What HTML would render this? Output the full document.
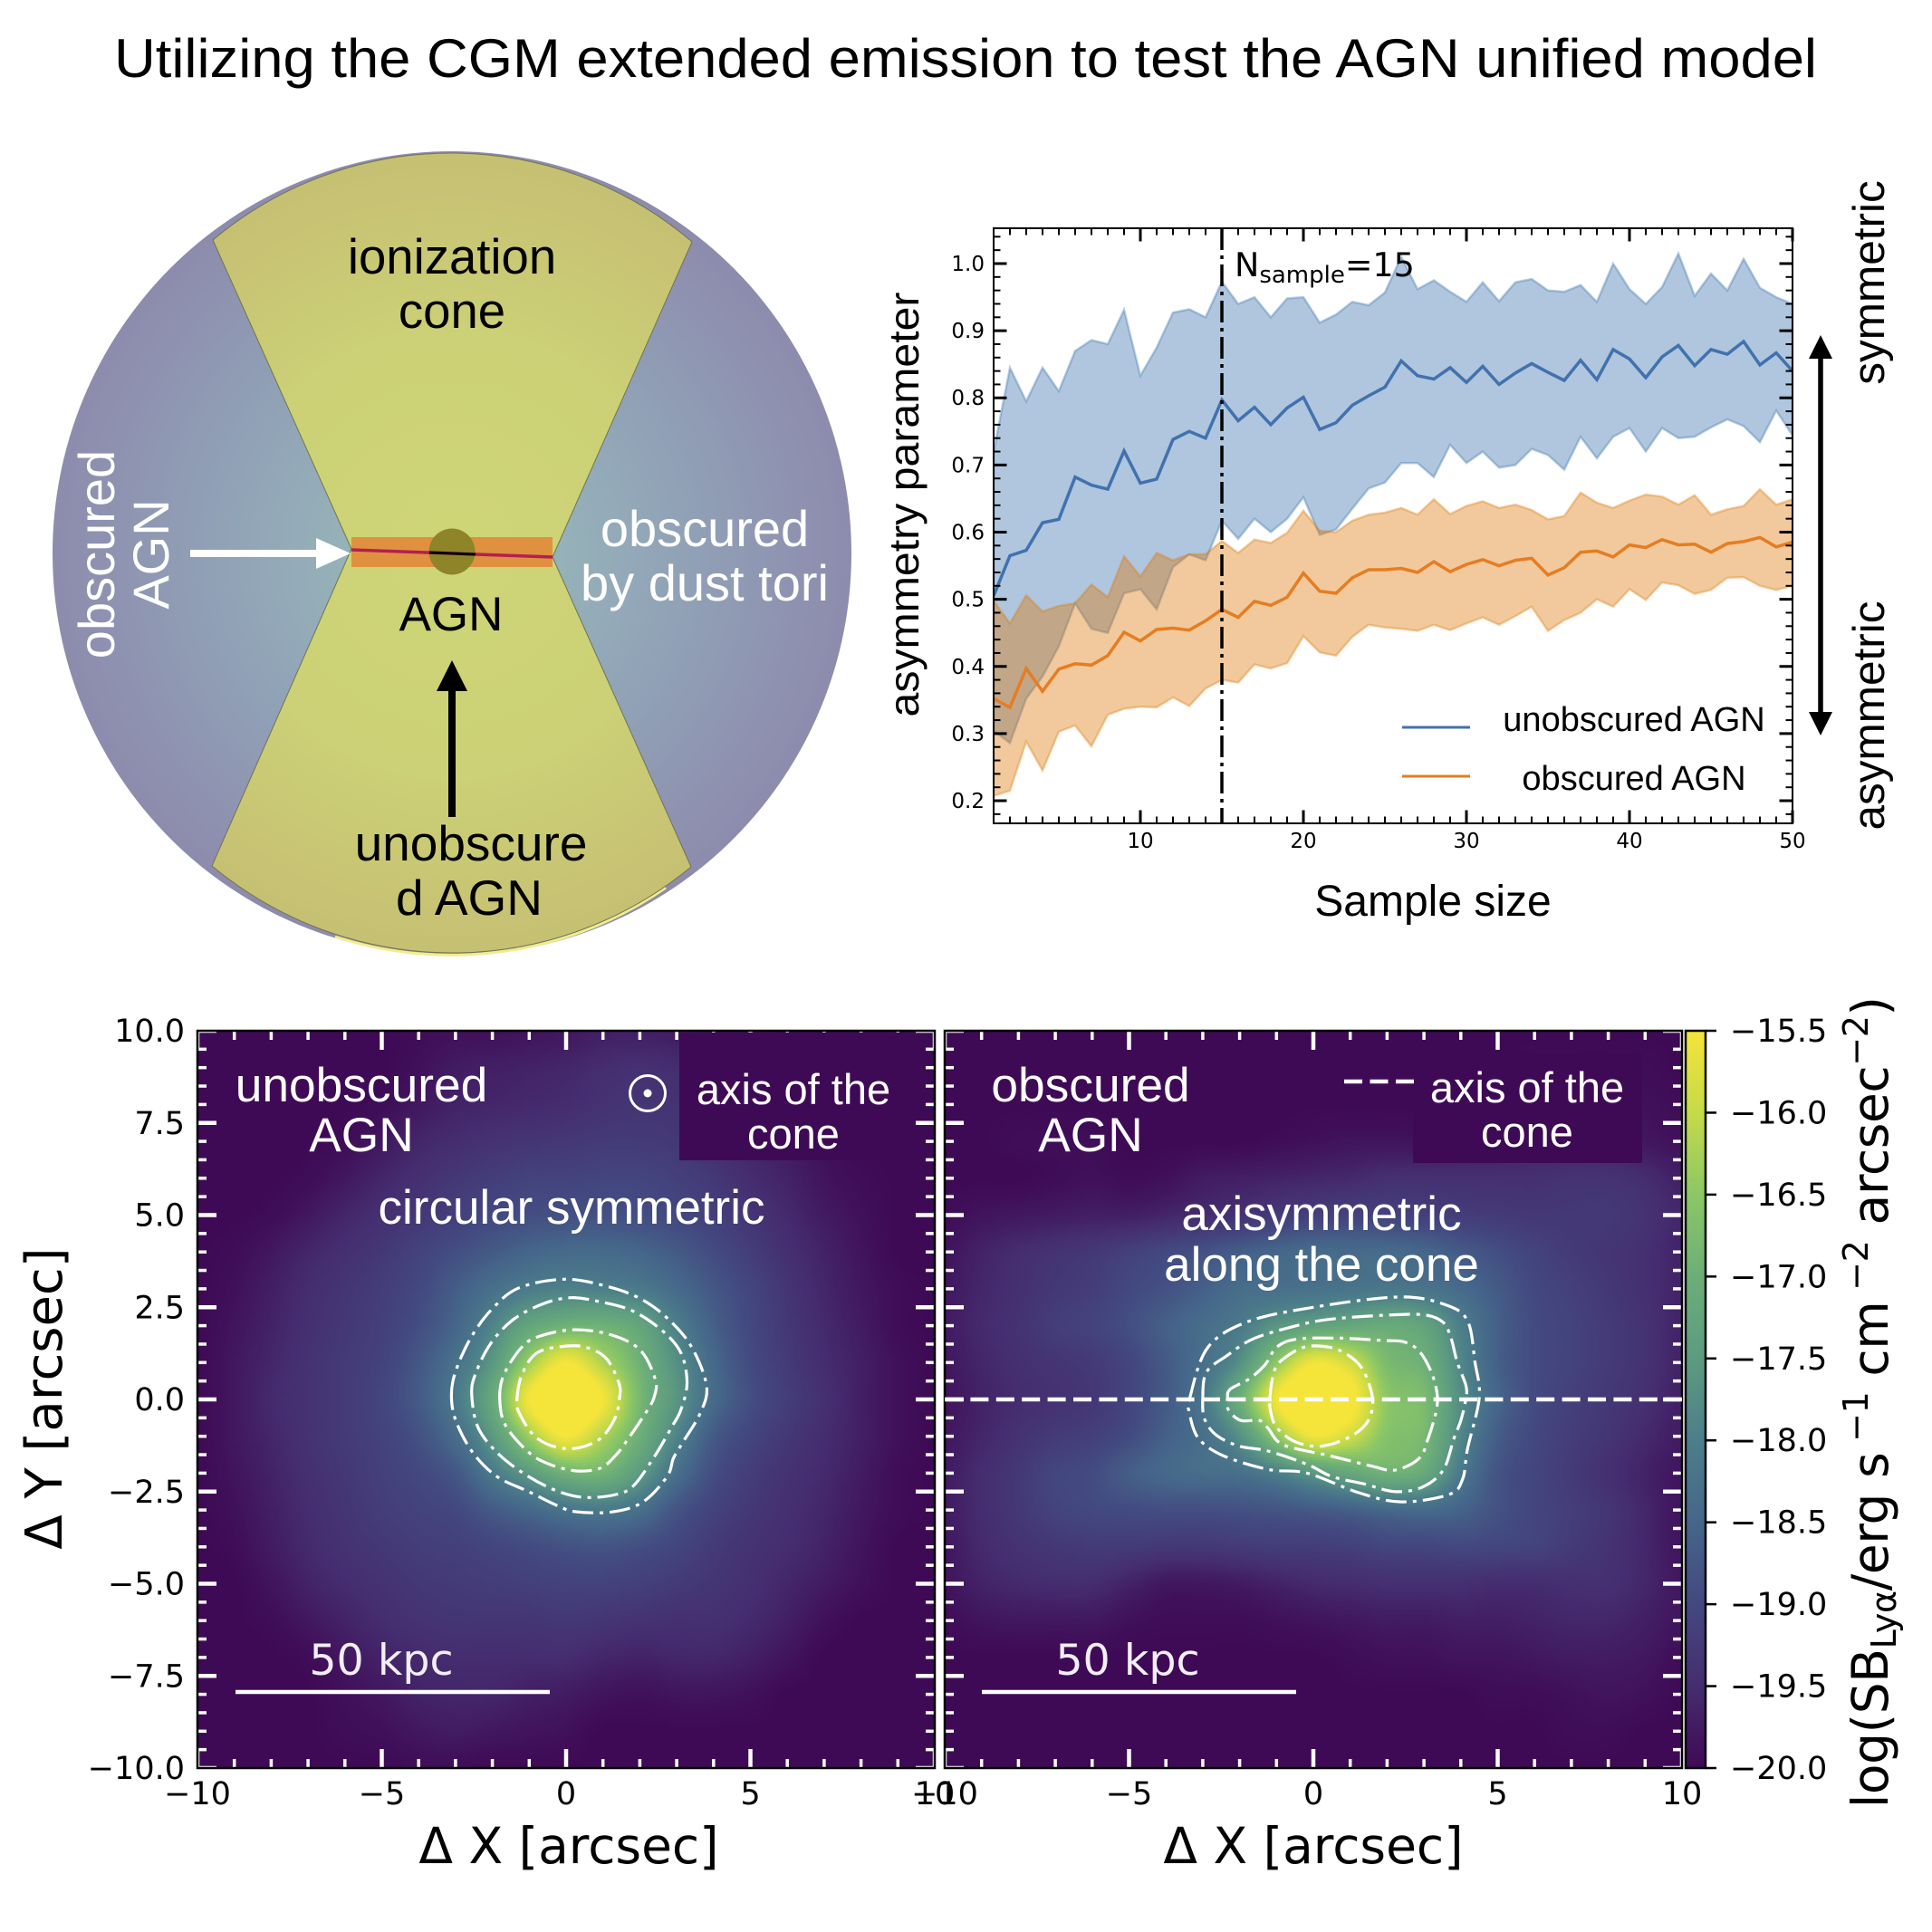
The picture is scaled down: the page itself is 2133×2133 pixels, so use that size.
<!DOCTYPE html>
<html lang="en">
<head>
<meta charset="utf-8">
<title>Utilizing the CGM extended emission to test the AGN unified model</title>
<style>
html,body{margin:0;padding:0;background:#fff;}
#stage{position:relative;width:2133px;height:2133px;overflow:hidden;background:#fff;}
canvas{position:absolute;display:block;}
svg{position:absolute;left:0;top:0;}
text{white-space:pre;}
.ls{font-family:"Liberation Sans",sans-serif;}
.dv{font-family:"DejaVu Sans",sans-serif;}
</style>
</head>
<body>
<div id="stage">
<canvas id="map1" width="814" height="814" style="left:218px;top:1138px;width:814px;height:814px"></canvas>
<canvas id="map2" width="814" height="814" style="left:1043px;top:1138px;width:814px;height:814px"></canvas>
<svg id="svg" xmlns="http://www.w3.org/2000/svg" width="2133" height="2133" viewBox="0 0 2133 2133">
<defs>
<radialGradient id="wedgeGrad" gradientUnits="userSpaceOnUse" cx="499" cy="611" r="444">
<stop offset="0.2" stop-color="#97b5b9"/><stop offset="0.55" stop-color="#91a3b7"/><stop offset="1" stop-color="#8d8bad"/>
</radialGradient>
<radialGradient id="coneGrad" gradientUnits="userSpaceOnUse" cx="499" cy="611" r="444">
<stop offset="0" stop-color="#ced677"/><stop offset="0.55" stop-color="#ccd076"/><stop offset="1" stop-color="#c6bf73"/>
</radialGradient>
<clipPath id="chartClip"><rect x="1097" y="252" width="882" height="657"/></clipPath>
<linearGradient id="cbarGrad" x1="0" y1="1" x2="0" y2="0"></linearGradient>
</defs>

<text class="ls" x="126" y="85" font-size="60" textLength="1880" lengthAdjust="spacingAndGlyphs" fill="#000">Utilizing the CGM extended emission to test the AGN unified model</text>

<g>
  <ellipse cx="499" cy="611" rx="441" ry="444" fill="url(#wedgeGrad)"/>
  <path d="M 370 1034 A 414 414 0 0 0 735 980" fill="none" stroke="#f3ec8e" stroke-width="3"/>
  <path d="M 235 265 L 388 606 L 610 615 L 764 267 A 409 409 0 0 0 235 265 Z" fill="url(#coneGrad)" stroke="#70754f" stroke-width="1"/>
  <path d="M 234 956 L 388 606 L 610 615 L 763 957 A 414 414 0 0 1 234 956 Z" fill="url(#coneGrad)" stroke="#70754f" stroke-width="1"/>
  <rect x="388" y="593" width="222" height="33" fill="#e09140"/>
  <circle cx="499" cy="609" r="25.5" fill="#8d8528"/>
  <line x1="388" y1="607" x2="610" y2="615" stroke="#b3204f" stroke-width="3.5"/>
  <line x1="474" y1="610" x2="525" y2="612" stroke="#000" stroke-width="3"/>
  <line x1="210" y1="611" x2="352" y2="611" stroke="#fff" stroke-width="8"/>
  <polygon points="349,594 387,611 349,628" fill="#fff"/>
  <line x1="499" y1="902" x2="499" y2="760" stroke="#000" stroke-width="8"/>
  <polygon points="482,763 499,729 516,763" fill="#000"/>
  <g class="ls" font-size="54.5" text-anchor="middle">
    <text x="499" y="302">ionization</text>
    <text x="499" y="362">cone</text>
    <text x="498" y="696" font-size="53">AGN</text>
    <text x="520" y="950" font-size="55">unobscure</text>
    <text x="518" y="1010" font-size="55">d AGN</text>
    <text x="778" y="603" font-size="56" fill="#fff">obscured</text>
    <text x="778" y="663" font-size="56" fill="#fff">by dust tori</text>
    <text transform="translate(126,612) rotate(-90)" font-size="56" fill="#fff">obscured</text>
    <text transform="translate(186,612) rotate(-90)" font-size="56" fill="#fff">AGN</text>
  </g>
</g>

<g id="lineChart"></g>

<g class="ls" fill="#000">
  <text transform="translate(1014,557) rotate(-90)" text-anchor="middle" font-size="46" textLength="469" lengthAdjust="spacingAndGlyphs">asymmetry parameter</text>
  <text x="1582" y="1011" text-anchor="middle" font-size="48">Sample size</text>
  <text transform="translate(2080,312) rotate(-90)" text-anchor="middle" font-size="49.5">symmetric</text>
  <text transform="translate(2080,790) rotate(-90)" text-anchor="middle" font-size="49.5">asymmetric</text>
  <line x1="2010" y1="385" x2="2010" y2="797" stroke="#000" stroke-width="5.5"/>
  <polygon points="1997,396 2010,370 2023,396" fill="#000"/>
  <polygon points="1997,786 2010,812 2023,786" fill="#000"/>
</g>

<g id="panels"></g>

<g class="ls" fill="#fff" text-anchor="middle">
  <rect x="750" y="1140" width="247" height="141" fill="#3e0a55"/>
  <rect x="1560" y="1162" width="253" height="122" fill="#3e0a55"/>
  <text x="399" y="1216" font-size="53.3">unobscured</text>
  <text x="399" y="1271" font-size="53.3">AGN</text>
  <text x="631" y="1351" font-size="53">circular symmetric</text>
  <text x="876" y="1219" font-size="47">axis of the</text>
  <text x="876" y="1268" font-size="47">cone</text>
  <circle cx="715" cy="1207" r="19.5" fill="none" stroke="#fff" stroke-width="3"/>
  <circle cx="715" cy="1207" r="4.5" fill="#fff"/>
  <text x="1204" y="1216" font-size="53.3">obscured</text>
  <text x="1204" y="1271" font-size="53.3">AGN</text>
  <text x="1459" y="1358" font-size="53">axisymmetric</text>
  <text x="1459" y="1414" font-size="53">along the cone</text>
  <text x="1686" y="1217" font-size="47">axis of the</text>
  <text x="1686" y="1266" font-size="47">cone</text>
  <line x1="1484" y1="1194" x2="1561" y2="1194" stroke="#fff" stroke-width="4.5" stroke-dasharray="20 8.5"/>
</g>

<g class="dv" fill="#f2eef5" text-anchor="middle" font-size="47.5">
  <line x1="260" y1="1868" x2="607" y2="1868" stroke="#fff" stroke-width="4.5"/>
  <text x="421" y="1849">50 kpc</text>
  <line x1="1084" y1="1868" x2="1431" y2="1868" stroke="#fff" stroke-width="4.5"/>
  <text x="1245" y="1849">50 kpc</text>
</g>

<g class="dv" fill="#000" text-anchor="middle" font-size="55">
  <text x="628" y="2057">Δ X [arcsec]</text>
  <text x="1450" y="2057">Δ X [arcsec]</text>
  <text transform="translate(68,1544) rotate(-90)" font-size="56">Δ Y [arcsec]</text>
  <text transform="translate(2084,1548) rotate(-90)" font-size="55" textLength="896">log(SB<tspan font-size="38" dy="9">Lyα</tspan><tspan dy="-9">/erg s</tspan><tspan font-size="38" dy="-22"> −1</tspan><tspan dy="22"> cm</tspan><tspan font-size="38" dy="-22"> −2</tspan><tspan dy="22"> arcsec</tspan><tspan font-size="38" dy="-22">−2</tspan><tspan dy="22">)</tspan></text>
</g>
</svg>
</div>

<script>
// ---------- line chart data ----------
const sampleSizes = [1,2,3,4,5,6,7,8,9,10,11,12,13,14,15,16,17,18,19,20,21,22,23,24,25,26,27,28,29,30,31,32,33,34,35,36,37,38,39,40,41,42,43,44,45,46,47,48,49,50];
const unobscuredMean = [0.505,0.565,0.573,0.614,0.619,0.682,0.670,0.664,0.721,0.673,0.679,0.738,0.750,0.740,0.797,0.766,0.786,0.760,0.785,0.801,0.753,0.763,0.789,0.803,0.816,0.855,0.833,0.828,0.845,0.823,0.847,0.820,0.837,0.851,0.838,0.826,0.856,0.827,0.872,0.858,0.830,0.861,0.878,0.848,0.872,0.865,0.884,0.849,0.867,0.840];
const unobscuredUpper = [0.72,0.845,0.795,0.845,0.81,0.87,0.886,0.88,0.931,0.833,0.875,0.927,0.932,0.92,0.973,0.94,0.95,0.92,0.948,0.95,0.912,0.924,0.943,0.938,0.957,1.01,0.962,0.975,0.958,0.943,0.972,0.944,0.972,0.977,0.96,0.958,0.968,0.943,1.0,0.962,0.94,0.965,1.015,0.952,0.985,0.96,1.007,0.964,0.95,0.94];
const unobscuredLower = [0.304,0.286,0.352,0.385,0.43,0.494,0.456,0.45,0.509,0.515,0.485,0.548,0.567,0.558,0.617,0.59,0.62,0.60,0.62,0.652,0.596,0.604,0.635,0.665,0.674,0.703,0.703,0.682,0.73,0.703,0.72,0.696,0.70,0.724,0.715,0.693,0.742,0.71,0.742,0.755,0.72,0.755,0.74,0.742,0.756,0.768,0.758,0.734,0.781,0.744];
const obscuredMean = [0.352,0.339,0.397,0.363,0.396,0.404,0.402,0.416,0.451,0.438,0.455,0.457,0.454,0.468,0.485,0.473,0.497,0.491,0.503,0.539,0.512,0.509,0.532,0.544,0.544,0.546,0.54,0.556,0.541,0.552,0.559,0.55,0.558,0.561,0.536,0.547,0.57,0.572,0.563,0.581,0.577,0.589,0.581,0.582,0.57,0.583,0.586,0.592,0.578,0.585];
const obscuredUpper = [0.498,0.464,0.506,0.482,0.49,0.494,0.522,0.503,0.564,0.534,0.569,0.558,0.567,0.567,0.587,0.569,0.589,0.584,0.599,0.632,0.602,0.60,0.617,0.626,0.629,0.636,0.626,0.649,0.627,0.639,0.646,0.636,0.641,0.633,0.619,0.624,0.659,0.644,0.636,0.647,0.656,0.653,0.641,0.655,0.626,0.634,0.639,0.664,0.641,0.649];
const obscuredLower = [0.207,0.215,0.288,0.245,0.303,0.312,0.281,0.328,0.337,0.34,0.339,0.354,0.341,0.367,0.38,0.376,0.403,0.397,0.405,0.445,0.421,0.416,0.444,0.462,0.458,0.456,0.453,0.462,0.454,0.464,0.473,0.462,0.475,0.489,0.453,0.469,0.48,0.5,0.489,0.515,0.499,0.525,0.521,0.508,0.514,0.532,0.533,0.52,0.514,0.52];
const chartXTicks = [10,20,30,40,50];
const chartYTicks = [0.2,0.3,0.4,0.5,0.6,0.7,0.8,0.9,1.0];
const chartYLabels = ["0.2","0.3","0.4","0.5","0.6","0.7","0.8","0.9","1.0"];
const thresholdSample = [15];

// ---------- surface brightness maps: log SB, rows y=10..-10, columns x=-10..10 ----------
const mapAxisX = [-10,-5,0,5,10];
const mapAxisXLabels = ["\u221210","\u22125","0","5","10"];
const mapAxisY = [-10,-7.5,-5,-2.5,0,2.5,5,7.5,10];
const mapAxisYLabels = ["\u221210.0","\u22127.5","\u22125.0","\u22122.5","0.0","2.5","5.0","7.5","10.0"];
const cbarTicks = [-20,-19.5,-19,-18.5,-18,-17.5,-17,-16.5,-16,-15.5];
const cbarLabels = ["\u221220.0","\u221219.5","\u221219.0","\u221218.5","\u221218.0","\u221217.5","\u221217.0","\u221216.5","\u221216.0","\u221215.5"];
const cmapLevels = [-20,-19.5,-19,-18.5,-18,-17.5,-17,-16.5,-16,-15.5];
const cmapColors = [[63,10,85],[69,45,112],[67,72,128],[69,102,138],[76,126,138],[93,155,128],[108,174,120],[140,199,102],[198,218,72],[245,228,58]];

const unobscuredGrid = [
[-20,-20,-20,-20,-20,-20,-19.95,-19.9,-19.9,-19.85,-19.8,-19.7,-19.7,-19.75,-19.85,-19.9,-20,-20,-20,-20,-20],
[-20,-20,-20,-20,-20,-20,-19.9,-19.75,-19.7,-19.65,-19.6,-19.5,-19.45,-19.5,-19.6,-19.8,-19.9,-20,-20,-20,-20],
[-20,-20,-20,-20,-20,-19.95,-19.8,-19.65,-19.6,-19.55,-19.5,-19.4,-19.35,-19.4,-19.55,-19.7,-19.85,-19.95,-20,-20,-20],
[-20,-20,-20,-20,-19.95,-19.8,-19.6,-19.5,-19.4,-19.35,-19.3,-19.25,-19.25,-19.3,-19.45,-19.6,-19.75,-19.9,-20,-20,-20],
[-20,-20,-20,-19.95,-19.8,-19.6,-19.45,-19.3,-19.2,-19.1,-19.1,-19.05,-19.05,-19.15,-19.3,-19.5,-19.65,-19.85,-19.95,-20,-20],
[-20,-20,-19.95,-19.8,-19.6,-19.45,-19.3,-19.15,-19.0,-18.9,-18.85,-18.85,-18.9,-19.0,-19.15,-19.35,-19.55,-19.75,-19.9,-20,-20],
[-20,-19.95,-19.8,-19.6,-19.45,-19.3,-19.1,-18.9,-18.7,-18.5,-18.4,-18.4,-18.5,-18.7,-18.95,-19.2,-19.45,-19.65,-19.85,-20,-20],
[-20,-19.9,-19.7,-19.5,-19.35,-19.2,-19.0,-18.65,-18.3,-18.05,-17.95,-18.0,-18.1,-18.4,-18.75,-19.05,-19.35,-19.6,-19.8,-19.95,-20],
[-20,-19.85,-19.65,-19.45,-19.3,-19.15,-18.9,-18.5,-17.9,-17.25,-16.95,-16.95,-17.25,-18.0,-18.6,-19.0,-19.3,-19.55,-19.75,-19.95,-20],
[-20,-19.8,-19.6,-19.4,-19.25,-19.1,-18.75,-18.25,-17.55,-16.35,-15.5,-16.2,-16.95,-17.7,-18.45,-18.95,-19.25,-19.5,-19.7,-19.9,-20],
[-20,-19.8,-19.55,-19.4,-19.25,-19.05,-18.7,-18.1,-17.15,-15.5,-14.8,-15.5,-16.8,-17.6,-18.4,-18.9,-19.2,-19.45,-19.7,-19.9,-20],
[-20,-19.8,-19.6,-19.4,-19.25,-19.1,-18.85,-18.35,-17.55,-16.35,-15.5,-16.2,-17.0,-17.9,-18.7,-19.05,-19.3,-19.5,-19.7,-19.9,-20],
[-20,-19.85,-19.65,-19.45,-19.3,-19.15,-19.0,-18.75,-18.1,-17.5,-16.95,-16.9,-17.5,-18.3,-18.9,-19.2,-19.4,-19.55,-19.75,-19.95,-20],
[-20,-19.9,-19.7,-19.5,-19.35,-19.2,-19.1,-19.0,-18.7,-18.45,-18.2,-18.1,-18.3,-18.8,-19.1,-19.3,-19.45,-19.6,-19.8,-19.95,-20],
[-20,-19.95,-19.75,-19.55,-19.4,-19.3,-19.2,-19.15,-19.05,-18.95,-18.85,-18.8,-18.9,-19.05,-19.25,-19.4,-19.5,-19.65,-19.85,-20,-20],
[-20,-20,-19.85,-19.65,-19.5,-19.4,-19.3,-19.25,-19.2,-19.15,-19.1,-19.1,-19.15,-19.25,-19.35,-19.45,-19.6,-19.75,-19.9,-20,-20],
[-20,-20,-19.95,-19.8,-19.65,-19.5,-19.4,-19.35,-19.35,-19.35,-19.3,-19.35,-19.4,-19.45,-19.45,-19.55,-19.7,-19.9,-20,-20,-20],
[-20,-20,-20,-19.95,-19.8,-19.65,-19.55,-19.5,-19.5,-19.5,-19.5,-19.6,-19.65,-19.6,-19.6,-19.7,-19.85,-20,-20,-20,-20],
[-20,-20,-20,-20,-19.9,-19.8,-19.65,-19.6,-19.6,-19.7,-19.75,-19.85,-19.9,-19.85,-19.85,-19.9,-20,-20,-20,-20,-20],
[-20,-20,-20,-20,-19.95,-19.9,-19.8,-19.75,-19.8,-19.85,-19.9,-20,-20,-20,-20,-20,-20,-20,-20,-20,-20],
[-20,-20,-20,-20,-20,-20,-19.95,-19.95,-20,-20,-20,-20,-20,-20,-20,-20,-20,-20,-20,-20,-20]
];
const obscuredGrid = [
[-20,-20,-20,-20,-20,-20,-20,-20,-20,-20,-20,-20,-20,-20,-20,-20,-20,-20,-20,-20,-20],
[-20,-20,-20,-20,-20,-20,-20,-20,-20,-20,-20,-20,-20,-20,-20,-20,-19.95,-19.95,-19.95,-19.95,-20],
[-20,-20,-20,-20,-20,-20,-20,-20,-20,-20,-20,-20,-20,-20,-20,-19.9,-19.85,-19.85,-19.85,-19.9,-19.95],
[-20,-20,-19.95,-19.95,-19.95,-20,-20,-20,-20,-19.95,-19.9,-19.85,-19.85,-19.85,-19.8,-19.75,-19.7,-19.7,-19.7,-19.8,-19.9],
[-20,-20,-20,-19.95,-19.9,-19.95,-19.9,-19.75,-19.7,-19.65,-19.6,-19.55,-19.45,-19.45,-19.45,-19.45,-19.45,-19.4,-19.4,-19.5,-19.7],
[-19.95,-19.85,-19.8,-19.75,-19.7,-19.7,-19.6,-19.5,-19.4,-19.25,-19.15,-19.1,-19.1,-19.15,-19.2,-19.25,-19.3,-19.3,-19.3,-19.4,-19.6],
[-19.85,-19.65,-19.5,-19.4,-19.3,-19.15,-19.0,-18.85,-18.65,-18.5,-18.4,-18.4,-18.4,-18.5,-18.7,-18.9,-19.1,-19.25,-19.35,-19.45,-19.65],
[-19.8,-19.6,-19.45,-19.3,-19.2,-19.0,-18.85,-18.6,-18.35,-18.3,-18.25,-18.2,-18.15,-18.2,-18.4,-18.7,-19.0,-19.15,-19.3,-19.45,-19.65],
[-19.75,-19.55,-19.4,-19.2,-19.1,-18.9,-18.6,-18.35,-18.1,-17.6,-17.35,-17.2,-17.1,-17.3,-18.0,-18.6,-18.95,-19.1,-19.25,-19.4,-19.65],
[-19.8,-19.6,-19.45,-19.35,-19.25,-19.05,-18.7,-18.3,-17.7,-16.5,-15.55,-15.9,-16.75,-17.0,-17.85,-18.6,-18.95,-19.1,-19.25,-19.4,-19.65],
[-19.85,-19.65,-19.5,-19.4,-19.3,-19.05,-18.7,-18.15,-17.05,-15.55,-14.8,-15.3,-16.5,-16.75,-17.75,-18.5,-18.95,-19.15,-19.3,-19.45,-19.7],
[-19.8,-19.6,-19.4,-19.25,-19.15,-18.95,-18.6,-18.3,-17.7,-16.5,-15.55,-15.9,-16.6,-16.8,-17.85,-18.65,-19.0,-19.2,-19.35,-19.55,-19.75],
[-19.75,-19.5,-19.3,-19.05,-18.95,-18.65,-18.45,-18.35,-18.3,-18.0,-17.55,-17.2,-16.95,-17.15,-18.1,-18.8,-19.05,-19.25,-19.45,-19.65,-19.85],
[-19.75,-19.5,-19.3,-19.1,-19,-18.95,-18.9,-18.9,-18.85,-18.8,-18.7,-18.6,-18.45,-18.4,-18.55,-18.85,-19.05,-19.2,-19.35,-19.6,-19.85],
[-19.8,-19.55,-19.4,-19.3,-19.25,-19.25,-19.3,-19.3,-19.25,-19.2,-19.2,-19.15,-19.05,-19.05,-19.0,-19.05,-19.1,-19.25,-19.4,-19.6,-19.85],
[-19.85,-19.65,-19.55,-19.5,-19.5,-19.65,-19.8,-19.8,-19.75,-19.65,-19.55,-19.5,-19.45,-19.45,-19.45,-19.5,-19.5,-19.45,-19.45,-19.6,-19.8],
[-19.95,-19.85,-19.8,-19.8,-19.8,-19.9,-19.95,-19.95,-19.95,-19.9,-19.85,-19.8,-19.75,-19.75,-19.7,-19.7,-19.65,-19.6,-19.6,-19.7,-19.85],
[-20,-20,-20,-20,-20,-20,-20,-20,-20,-20,-20,-19.95,-19.9,-19.9,-19.85,-19.85,-19.8,-19.75,-19.75,-19.8,-19.95],
[-20,-20,-20,-20,-20,-20,-20,-20,-20,-20,-20,-20,-20,-20,-20,-19.95,-19.95,-19.9,-19.85,-19.9,-20],
[-20,-20,-20,-20,-20,-20,-20,-20,-20,-20,-20,-20,-20,-20,-20,-20,-20,-19.95,-19.95,-20,-20],
[-20,-20,-20,-20,-20,-20,-20,-20,-20,-20,-20,-20,-20,-20,-20,-20,-20,-20,-20,-20,-20]
];

// contour vertices in arcsec
const unobscuredContourOuter = [[-3.11,.12],[-2.99,.78],[-2.58,1.68],[-2,2.46],[-1.27,3.03],[-.04,3.26],[1.1,3.07],[2,2.74],[2.74,2.21],[3.4,1.43],[3.81,.37],[3.64,-.37],[3.15,-1.19],[2.91,-1.6],[2.74,-2.09],[2.09,-2.78],[1.27,-3.05],[.29,-3.05],[-.2,-2.9],[-1.02,-2.5],[-1.88,-2.09],[-2.54,-1.43],[-2.99,-.58]];
const unobscuredContourSecond = [[-2.56,.12],[-2.46,.69],[-2.05,1.51],[-1.43,2.17],[-.61,2.6],[.13,2.76],[.86,2.66],[1.76,2.42],[2.58,1.89],[3.11,1.27],[3.28,.45],[3.11,-.29],[2.87,-.74],[2.42,-1.51],[1.84,-2.33],[1.35,-2.58],[.53,-2.66],[-.2,-2.5],[-1.02,-2.09],[-1.8,-1.51],[-2.38,-.78]];
const unobscuredContourThird = [[-1.8,.04],[-1.68,.69],[-1.19,1.43],[-.7,1.72],[.2,1.89],[1.19,1.76],[2,1.35],[2.42,.54],[2.38,.04],[2.13,-.41],[1.6,-1.19],[1.35,-1.51],[.94,-1.86],[.29,-1.94],[-.45,-1.76],[-1.02,-1.43],[-1.65,-.69]];
const unobscuredContourInner = [[-1.33,.04],[-1.19,.69],[-.78,1.27],[.04,1.45],[.61,1.39],[1.1,1.1],[1.43,.45],[1.45,.04],[1.31,-.54],[.86,-1.11],[.04,-1.34],[-.78,-1.06],[-1.27,-.37]];
const obscuredContourOuter = [[-3.35,.05],[-2.87,1.4],[-1.8,2.1],[0,2.5],[2.38,2.78],[3.68,2.53],[4.2,2.09],[4.38,1.03],[4.5,.05],[4.18,-1.35],[4.05,-2.16],[3.68,-2.58],[2.38,-2.78],[1.23,-2.53],[-.17,-2],[-1.23,-1.9],[-2.46,-1.52],[-3.12,-1.05],[-3.36,-.37]];
const obscuredContourSecond = [[-3,.04],[-2.9,.74],[-2.34,1.19],[-1.64,1.64],[-.57,1.97],[.41,2.17],[2.05,2.29],[3.03,2.29],[3.52,2.09],[3.73,1.68],[3.9,1.02],[4.14,.37],[4.14,.04],[4.01,-.54],[3.81,-1.07],[3.52,-1.92],[2.95,-2.38],[2.21,-2.5],[1.4,-2.3],[.5,-2.09],[-.17,-1.76],[-1.23,-1.4],[-2,-1.27],[-2.62,-.98],[-2.95,-.53]];
const obscuredContourThird = [[-2.33,.04],[-2.25,.28],[-1.72,.57],[-1.31,.94],[-.98,1.43],[-.41,1.64],[.74,1.66],[1.88,1.6],[2.46,1.56],[2.87,1.31],[3.2,.74],[3.36,.12],[3.32,-.37],[3.11,-1.07],[2.87,-1.6],[2.21,-1.92],[1.55,-1.8],[.41,-1.52],[-.82,-1.23],[-1.23,-.78],[-1.47,-.57],[-1.97,-.57],[-2.3,-.29]];
const obscuredContourInner = [[-1.18,.04],[-1.06,.78],[-.81,1.1],[-.24,1.42],[.41,1.42],[.9,1.23],[1.31,.86],[1.56,.25],[1.6,-.25],[1.4,-.7],[.9,-1.06],[.17,-1.27],[-.49,-1.15],[-.98,-.78],[-1.15,-.37]];

// ---------- helpers ----------
const NS = 'http://www.w3.org/2000/svg';
function mk(parent, tag, attrs) {
  const el = document.createElementNS(NS, tag);
  for (const k in attrs) el.setAttribute(k, attrs[k]);
  parent.appendChild(el);
  return el;
}

// ---------- line chart ----------
const chart = document.getElementById('lineChart');
const CH = {l:1097, r:1979, t:252, b:909, x0:1, x1:50, y0:0.1663, y1:1.0526};
function sx(v){ return CH.l + (v-CH.x0)/(CH.x1-CH.x0)*(CH.r-CH.l); }
function sy(v){ return CH.b - (v-CH.y0)/(CH.y1-CH.y0)*(CH.b-CH.t); }
const plot = mk(chart,'g',{'clip-path':'url(#chartClip)'});
function band(up, lo, color, name) {
  let d = 'M';
  sampleSizes.forEach((n,i)=>{ d += (i?' L':'') + sx(n).toFixed(1)+' '+sy(up[i]).toFixed(1); });
  for (let i=sampleSizes.length-1;i>=0;i--) d += ' L'+sx(sampleSizes[i]).toFixed(1)+' '+sy(lo[i]).toFixed(1);
  const el = mk(plot,'path',{d:d+' Z',fill:color,'fill-opacity':0.4,stroke:color,'stroke-opacity':0.35,'stroke-width':2.5});
  
  
}
function meanLine(vals, color, name) {
  const pts = sampleSizes.map((n,i)=>sx(n).toFixed(1)+','+sy(vals[i]).toFixed(1)).join(' ');
  const el = mk(plot,'polyline',{points:pts,fill:'none',stroke:color,'stroke-width':3.5,'stroke-linejoin':'miter'});
  
  
}
band(unobscuredUpper, unobscuredLower, '#3771ad', 'unobscured-band');
band(obscuredUpper, obscuredLower, '#dc7808', 'obscured-band');
meanLine(unobscuredMean, '#4172ae', 'unobscured-mean-line');
meanLine(obscuredMean, '#e57d22', 'obscured-mean-line');
thresholdSample.forEach(n=>{
  const el = mk(chart,'line',{x1:sx(n),x2:sx(n),y1:CH.t,y2:CH.b,stroke:'#000','stroke-width':3.5,'stroke-dasharray':'24 6 4 6'});
  
  
});
function chartTicks() {
  for (let n=2;n<=50;n++) {
    const major = n%10===0, len = major?14.5:7.5, w = major?3:2;
    [[CH.b,CH.b-len],[CH.t,CH.t+len]].forEach(p=>{
      const el = mk(chart,'line',{x1:sx(n),x2:sx(n),y1:p[0],y2:p[1],stroke:'#000','stroke-width':w});
      
      
    });
  }
  for (let k=9;k<=52;k++) {
    const v = k*0.02, major = k%5===0, len = major?14.5:7.5, w = major?3:2;
    [[CH.l,CH.l+len],[CH.r,CH.r-len]].forEach(p=>{
      const el = mk(chart,'line',{x1:p[0],x2:p[1],y1:sy(v),y2:sy(v),stroke:'#000','stroke-width':w});
      
      
    });
  }
}
chartTicks();
const chartFrame = mk(chart,'rect',{x:CH.l,y:CH.t,width:CH.r-CH.l,height:CH.b-CH.t,fill:'none',stroke:'#000','stroke-width':2});


chartXTicks.forEach(n=>{
  const el = mk(chart,'text',{x:sx(n),y:936,'text-anchor':'middle','font-size':23,'font-family':'"DejaVu Sans",sans-serif'});
  el.textContent = String(n);
  
  
});
chartYTicks.forEach((v,i)=>{
  const el = mk(chart,'text',{x:1087,y:sy(v)+8,'text-anchor':'end','font-size':23,'font-family':'"DejaVu Sans",sans-serif'});
  el.textContent = chartYLabels[i];
  
  
});
const thrLabel = mk(chart,'text',{x:1363,y:305,'font-size':36.5,'font-family':'"DejaVu Sans",sans-serif'});


thrLabel.innerHTML = 'N<tspan font-size="26" dy="7">sample</tspan><tspan dy="-7">=15</tspan>';
const legendItems = [['unobscured AGN','#4172ae',803,807,'unobscured'],['obscured AGN','#e57d22',857,872,'obscured']];
legendItems.forEach(it=>{
  const ln = mk(chart,'line',{x1:1548,x2:1623,y1:it[2],y2:it[2],stroke:it[1],'stroke-width':3});
  
  
  const tx = mk(chart,'text',{x:1804,y:it[3],'text-anchor':'middle','font-size':38,'font-family':'"Liberation Sans",sans-serif'});
  tx.textContent = it[0];
  
  
});

// ---------- heatmaps ----------
function colorAt(v) {
  if (v <= cmapLevels[0]) return cmapColors[0];
  const last = cmapLevels.length-1;
  if (v >= cmapLevels[last]) return cmapColors[last];
  let i = 0;
  while (v > cmapLevels[i+1]) i++;
  const t = (v-cmapLevels[i])/(cmapLevels[i+1]-cmapLevels[i]);
  const a = cmapColors[i], b = cmapColors[i+1];
  return [a[0]+(b[0]-a[0])*t, a[1]+(b[1]-a[1])*t, a[2]+(b[2]-a[2])*t];
}
function cr(p0,p1,p2,p3,t){
  return 0.5*((2*p1)+(-p0+p2)*t+(2*p0-5*p1+4*p2-p3)*t*t+(-p0+3*p1-3*p2+p3)*t*t*t);
}
function sampleGrid(g, fx, fy) {
  const n = g.length-1;
  const ix = Math.min(n-1, Math.floor(fx)), iy = Math.min(n-1, Math.floor(fy));
  const tx = fx-ix, ty = fy-iy, col = [];
  for (let j=-1;j<=2;j++) {
    const r = g[Math.max(0,Math.min(n,iy+j))];
    col.push(cr(r[Math.max(0,ix-1)],r[ix],r[ix+1],r[Math.min(n,ix+2)],tx));
  }
  return cr(col[0],col[1],col[2],col[3],ty);
}
function drawMap(id, grid) {
  const c = document.getElementById(id), ctx = c.getContext('2d');
  const img = ctx.createImageData(c.width,c.height), n = grid.length-1, cell = 3;
  for (let py=0;py<c.height;py+=cell) for (let px=0;px<c.width;px+=cell) {
    const col = colorAt(sampleGrid(grid,(px+cell/2)/c.width*n,(py+cell/2)/c.height*n));
    for (let yy=py;yy<Math.min(py+cell,c.height);yy++) for (let xx=px;xx<Math.min(px+cell,c.width);xx++) {
      const k = (yy*c.width+xx)*4;
      img.data[k]=col[0]; img.data[k+1]=col[1]; img.data[k+2]=col[2]; img.data[k+3]=255;
    }
  }
  ctx.putImageData(img,0,0);
}
drawMap('map1', unobscuredGrid);
drawMap('map2', obscuredGrid);

// ---------- panel overlays ----------
const panelsG = document.getElementById('panels');
const panelDefs = [
  {l:218, contours:[unobscuredContourOuter,unobscuredContourSecond,unobscuredContourThird,unobscuredContourInner], yLabels:true},
  {l:1043, contours:[obscuredContourOuter,obscuredContourSecond,obscuredContourThird,obscuredContourInner], yLabels:false}
];
const PT = 1138, PS = 814;
function closedSpline(pts) {
  const n = pts.length;
  let d = 'M'+pts[0][0].toFixed(1)+' '+pts[0][1].toFixed(1);
  for (let i=0;i<n;i++) {
    const p0=pts[(i-1+n)%n],p1=pts[i],p2=pts[(i+1)%n],p3=pts[(i+2)%n];
    d += ' C'+(p1[0]+(p2[0]-p0[0])/6).toFixed(1)+' '+(p1[1]+(p2[1]-p0[1])/6).toFixed(1)+' '+(p2[0]-(p3[0]-p1[0])/6).toFixed(1)+' '+(p2[1]-(p3[1]-p1[1])/6).toFixed(1)+' '+p2[0].toFixed(1)+' '+p2[1].toFixed(1);
  }
  return d+' Z';
}
panelDefs.forEach(P=>{
  const px = v => P.l + (v+10)/20*PS;
  const py = v => PT + (10-v)/20*PS;
  P.contours.forEach(ct=>{
    const el = mk(panelsG,'path',{d:closedSpline(ct.map(q=>[px(q[0]),py(q[1])])),fill:'none',stroke:'#fff','stroke-width':3.2,'stroke-dasharray':'23 7 4 7'});
    
    
  });
  for (let k=-10;k<=10;k++) {
    const major = k%5===0, len = major?21:10, w = major?4.5:3.5;
    [[PT,PT+len],[PT+PS,PT+PS-len]].forEach(p=>{
      const el = mk(panelsG,'line',{x1:px(k),x2:px(k),y1:p[0],y2:p[1],stroke:'#fff','stroke-width':w});
      
      
    });
  }
  for (let k=-20;k<=20;k++) {
    const major = k%5===0, len = major?21:10, w = major?4.5:3.5;
    [[P.l,P.l+len],[P.l+PS,P.l+PS-len]].forEach(p=>{
      const el = mk(panelsG,'line',{x1:p[0],x2:p[1],y1:py(k/2),y2:py(k/2),stroke:'#fff','stroke-width':w});
      
      
    });
  }
  const fr = mk(panelsG,'rect',{x:P.l,y:PT,width:PS,height:PS,fill:'none',stroke:'#000','stroke-width':2.5});
  
  
  mapAxisX.forEach((v,i)=>{
    const el = mk(panelsG,'text',{x:px(v),y:1992,'text-anchor':'middle','font-size':35,'font-family':'"DejaVu Sans",sans-serif'});
    el.textContent = mapAxisXLabels[i];
    
    
  });
  if (P.yLabels) mapAxisY.forEach((v,i)=>{
    const el = mk(panelsG,'text',{x:204,y:py(v)+12,'text-anchor':'end','font-size':35,'font-family':'"DejaVu Sans",sans-serif'});
    el.textContent = mapAxisYLabels[i];
    
    
  });
});
const coneAxisValue = [0];
coneAxisValue.forEach(v=>{
  const y = PT + (10-v)/20*PS;
  const el = mk(panelsG,'line',{x1:1043,x2:1857,y1:y,y2:y,stroke:'#fff','stroke-width':4.5,'stroke-dasharray':'20 8.4'});
  
  
});

// ---------- colorbar ----------
const cbarGrad = document.getElementById('cbarGrad');
cmapLevels.forEach((lv,i)=>{
  const st = mk(cbarGrad,'stop',{offset:(lv-cmapLevels[0])/(cmapLevels[cmapLevels.length-1]-cmapLevels[0]),'stop-color':'rgb('+cmapColors[i].join(',')+')'});
});
const cbar = mk(panelsG,'rect',{x:1861,y:PT,width:22,height:PS,fill:'url(#cbarGrad)',stroke:'#000','stroke-width':2.5});


cbarTicks.forEach((v,i)=>{
  const y = PT+PS-(v+20)/4.5*PS;
  const t = mk(panelsG,'line',{x1:1883,x2:1895,y1:y,y2:y,stroke:'#000','stroke-width':2.5});
  
  
  const l = mk(panelsG,'text',{x:1910,y:y+12,'font-size':35,'font-family':'"DejaVu Sans",sans-serif'});
  l.textContent = cbarLabels[i];
  
  
});
</script>
</body>
</html>
